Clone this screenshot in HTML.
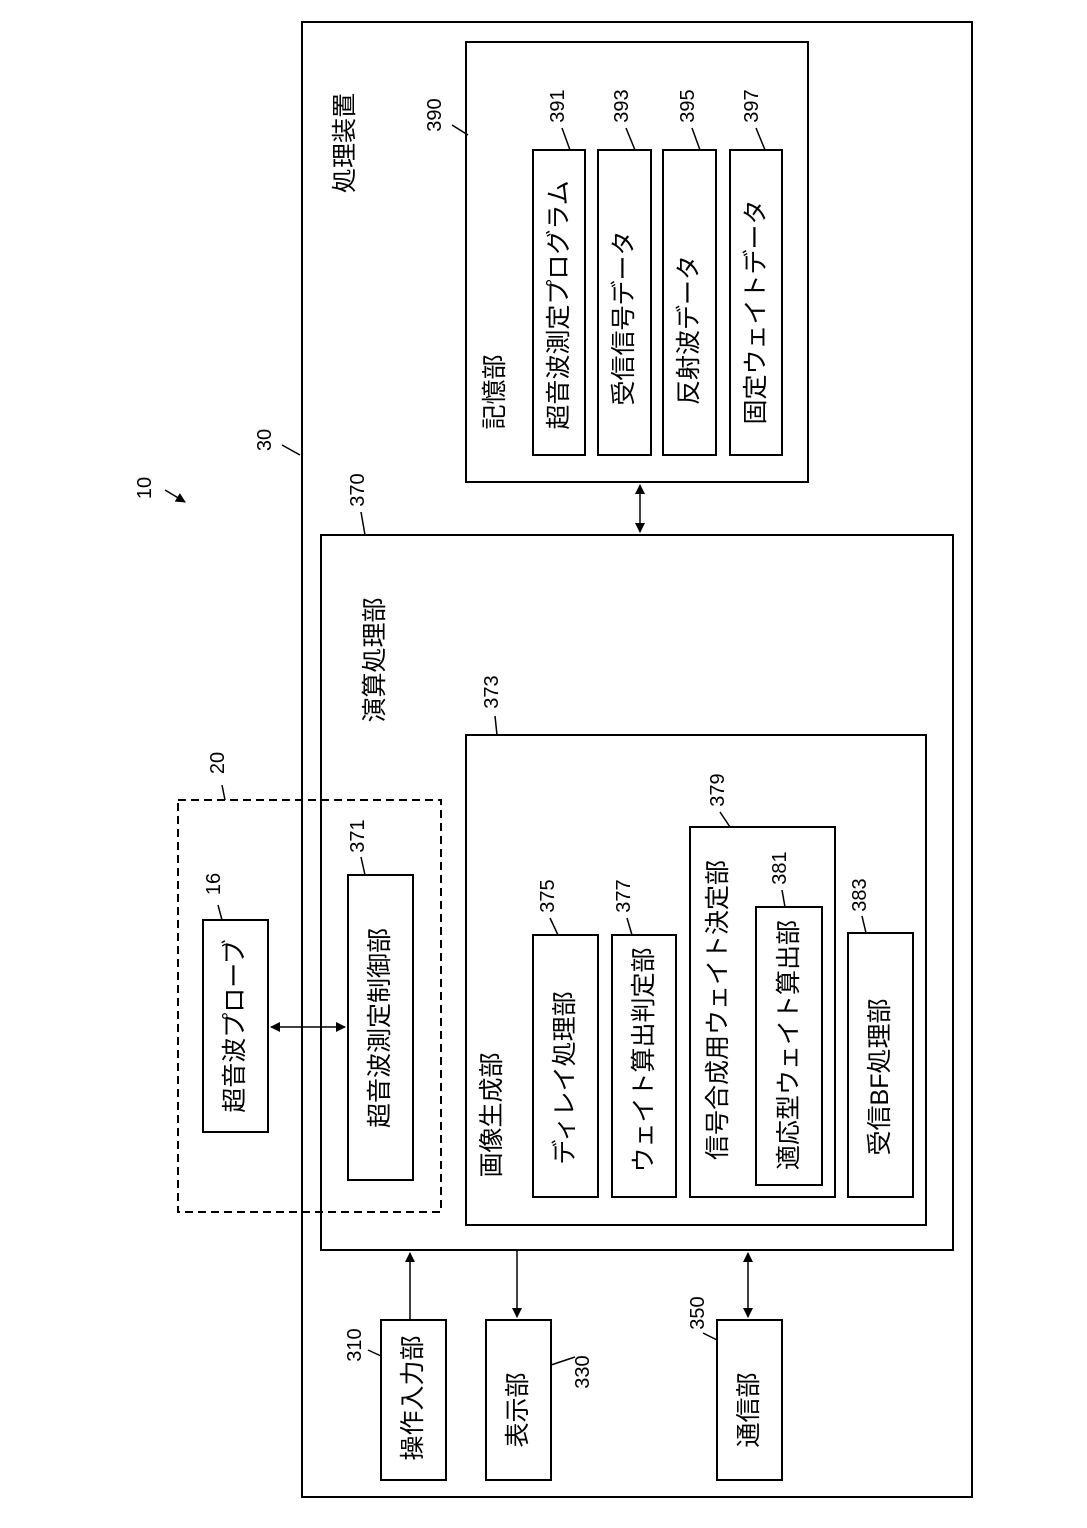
<!DOCTYPE html>
<html><head><meta charset="utf-8"><style>
html,body{margin:0;padding:0;background:#fff;}
svg{display:block;}
text{font-family:"Liberation Sans","Noto Sans CJK JP",sans-serif;fill:#000;}
.j{font-size:25px;}
.n{font-size:20px;}
</style></head><body>
<svg width="1087" height="1528" viewBox="0 0 1087 1528" xmlns="http://www.w3.org/2000/svg">
<defs>
<marker id="a" markerWidth="10" markerHeight="10" refX="9" refY="5" orient="auto" markerUnits="userSpaceOnUse"><path d="M0,0 L10,5 L0,10 z" fill="#000"/></marker>
<marker id="s" markerWidth="10" markerHeight="10" refX="1" refY="5" orient="auto" markerUnits="userSpaceOnUse"><path d="M10,0 L0,5 L10,10 z" fill="#000"/></marker>
</defs>
<g fill="none" stroke="#000" stroke-width="2">
<rect x="302" y="22" width="670" height="1475"/>
<rect x="466" y="42" width="342" height="440"/>
<rect x="533" y="150" width="52" height="305"/>
<rect x="598" y="150" width="53" height="305"/>
<rect x="663" y="150" width="53" height="305"/>
<rect x="730" y="150" width="52" height="305"/>
<rect x="321" y="535" width="632" height="715"/>
<rect x="466" y="735" width="460" height="490"/>
<rect x="533" y="935" width="65" height="262"/>
<rect x="612" y="935" width="64" height="262"/>
<rect x="690" y="827" width="145" height="370"/>
<rect x="756" y="907" width="66" height="278"/>
<rect x="848" y="933" width="65" height="264"/>
<rect x="178" y="800" width="263" height="412" stroke-dasharray="8,5"/>
<rect x="203" y="920" width="65" height="212"/>
<rect x="348" y="875" width="65" height="305"/>
<rect x="381" y="1320" width="65" height="160"/>
<rect x="486" y="1320" width="65" height="160"/>
<rect x="717" y="1320" width="65" height="160"/>
</g>
<g stroke="#000" stroke-width="1.5" fill="none">
<line x1="640" y1="485" x2="640" y2="532" marker-start="url(#s)" marker-end="url(#a)"/>
<line x1="271" y1="1027" x2="345" y2="1027" marker-start="url(#s)" marker-end="url(#a)"/>
<line x1="410" y1="1320" x2="410" y2="1253" marker-end="url(#a)"/>
<line x1="517" y1="1250" x2="517" y2="1317" marker-end="url(#a)"/>
<line x1="748" y1="1253" x2="748" y2="1317" marker-start="url(#s)" marker-end="url(#a)"/>
<line x1="165" y1="490" x2="185" y2="502" marker-end="url(#a)"/>
<line x1="282" y1="445" x2="300" y2="455"/>
<line x1="452" y1="125" x2="468" y2="135"/>
<line x1="562" y1="128" x2="570" y2="150"/>
<line x1="626" y1="128" x2="635" y2="150"/>
<line x1="692" y1="128" x2="700" y2="150"/>
<line x1="756" y1="128" x2="765" y2="150"/>
<line x1="361" y1="512" x2="365" y2="535"/>
<line x1="495" y1="716" x2="497" y2="735"/>
<line x1="222" y1="785" x2="225" y2="800"/>
<line x1="218" y1="905" x2="222" y2="920"/>
<line x1="361" y1="857" x2="365" y2="875"/>
<line x1="550" y1="918" x2="558" y2="935"/>
<line x1="627" y1="918" x2="632" y2="935"/>
<line x1="720" y1="812" x2="730" y2="827"/>
<line x1="782" y1="890" x2="785" y2="907"/>
<line x1="862" y1="916" x2="866" y2="933"/>
<line x1="368" y1="1350" x2="381" y2="1356"/>
<line x1="551" y1="1365" x2="575" y2="1357"/>
<line x1="703" y1="1333" x2="717" y2="1340"/>
</g>
<g class="n" text-anchor="middle" dominant-baseline="central">
<text transform="translate(145,488) rotate(-90)">10</text>
<text transform="translate(265,440) rotate(-90)">30</text>
<text transform="translate(435,115) rotate(-90)">390</text>
<text transform="translate(558,106) rotate(-90)">391</text>
<text transform="translate(622,106) rotate(-90)">393</text>
<text transform="translate(688,106) rotate(-90)">395</text>
<text transform="translate(752,106) rotate(-90)">397</text>
<text transform="translate(358,490) rotate(-90)">370</text>
<text transform="translate(492,692) rotate(-90)">373</text>
<text transform="translate(218,763) rotate(-90)">20</text>
<text transform="translate(214,884) rotate(-90)">16</text>
<text transform="translate(358,836) rotate(-90)">371</text>
<text transform="translate(548,896) rotate(-90)">375</text>
<text transform="translate(624,896) rotate(-90)">377</text>
<text transform="translate(718,790) rotate(-90)">379</text>
<text transform="translate(780,868) rotate(-90)">381</text>
<text transform="translate(860,895) rotate(-90)">383</text>
<text transform="translate(355,1345) rotate(-90)">310</text>
<text transform="translate(583,1372) rotate(-90)">330</text>
<text transform="translate(698,1313) rotate(-90)">350</text>
</g>
<g class="j" text-anchor="middle" dominant-baseline="central">
<text transform="translate(345,143) rotate(-90)">処理装置</text>
<text transform="translate(495,392) rotate(-90)">記憶部</text>
<text transform="translate(559,305) rotate(-90)">超音波測定プログラム</text>
<text transform="translate(624,318) rotate(-90)">受信信号データ</text>
<text transform="translate(689,330) rotate(-90)">反射波データ</text>
<text transform="translate(756,312) rotate(-90)">固定ウェイトデータ</text>
<text transform="translate(375,660) rotate(-90)">演算処理部</text>
<text transform="translate(492,1115) rotate(-90)">画像生成部</text>
<text transform="translate(565,1078) rotate(-90)">ディレイ処理部</text>
<text transform="translate(644,1060) rotate(-90)">ウェイト算出判定部</text>
<text transform="translate(718,1010) rotate(-90)">信号合成用ウェイト決定部</text>
<text transform="translate(789,1045) rotate(-90)">適応型ウェイト算出部</text>
<text transform="translate(880,1077) rotate(-90)">受信BF処理部</text>
<text transform="translate(235,1026) rotate(-90)">超音波プローブ</text>
<text transform="translate(380,1028) rotate(-90)">超音波測定制御部</text>
<text transform="translate(413,1398) rotate(-90)">操作入力部</text>
<text transform="translate(518,1410) rotate(-90)">表示部</text>
<text transform="translate(749,1410) rotate(-90)">通信部</text>
</g>
</svg>
</body></html>
